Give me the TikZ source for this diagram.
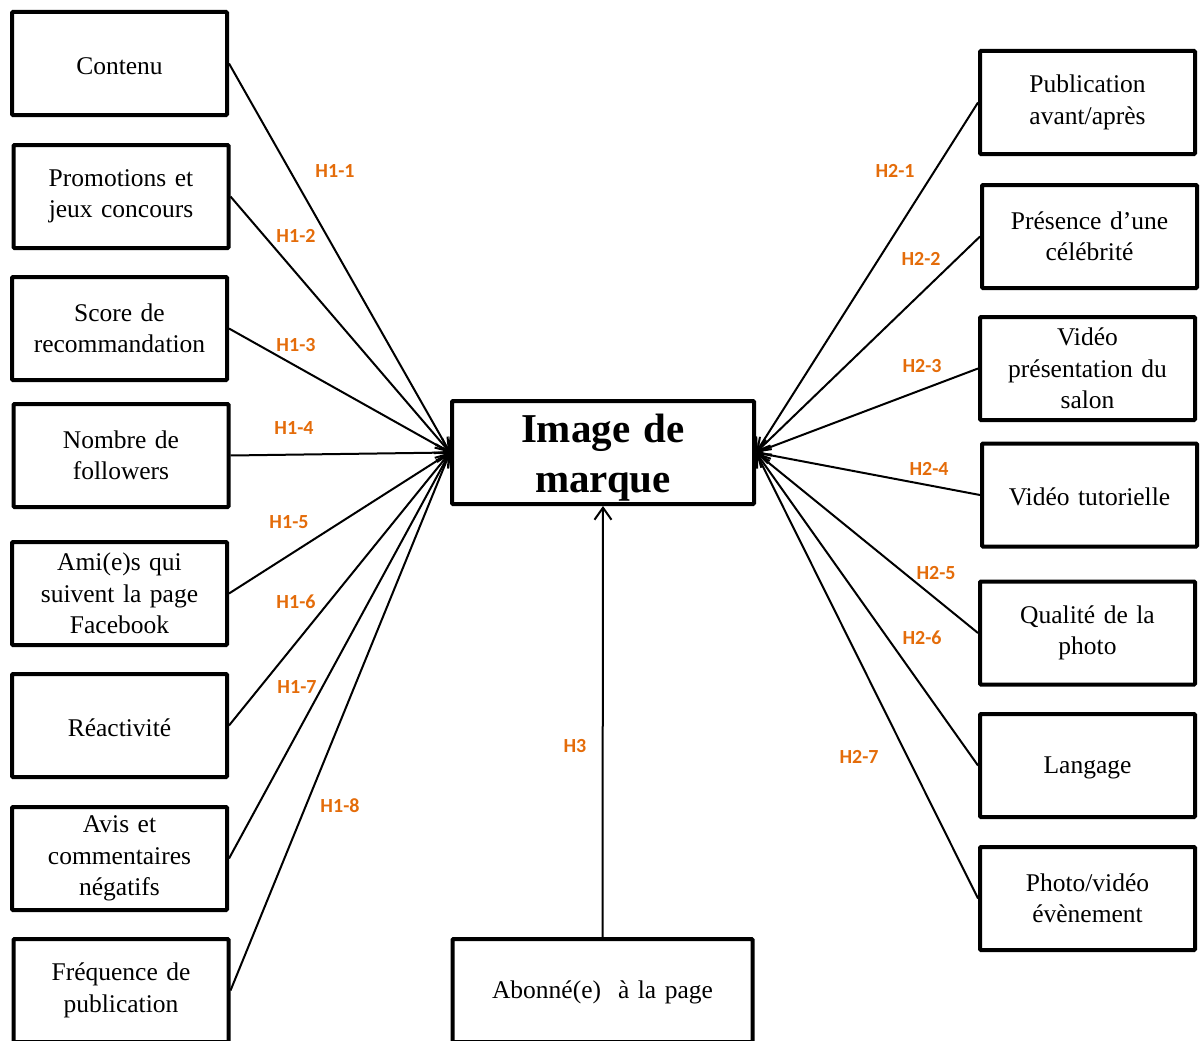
\documentclass[tikz,border=0pt]{standalone}
\usepackage{fontspec}
\setmainfont{Liberation Serif}
\newfontfamily\hypfont{Carlito}
\usepackage{xcolor}
\usetikzlibrary{arrows.meta}
\definecolor{hyporange}{HTML}{E46C0A}

\begin{document}
\begin{tikzpicture}[
    x=1pt, y=-1pt,
    >={Straight Barb[length=12pt,width=17pt]},
    factor/.style={draw, line width=4pt, rounded corners=1pt, fill=white,
                   minimum width=215pt, minimum height=103pt, inner sep=0pt,
                   text width=205pt, align=center,
                   font=\fontsize{25.5}{31.5}\selectfont},
    central/.style={factor, minimum width=302pt, text width=290pt,
                    font=\fontsize{41}{50}\selectfont\bfseries},
    link/.style={->, line width=2pt},
    hyp/.style={text=hyporange, inner sep=0pt,
                font=\hypfont\fontsize{20}{23}\selectfont\bfseries}
  ]
  \clip (0,0) rectangle (1203,1041);

  % Central concept
  \node[central] (image) at (603,452.5) {\rule{0pt}{39pt}Image de\\marque};
  \node[factor, minimum width=300pt, text width=290pt] (abonne) at (602.5,990.5)
    {\rule{0pt}{22pt}Abonn\'e(e)\ \ \`a la page};

  % Left factors (H1)
  \node[factor] (contenu)    at (119.5,63.5)  {\rule{0pt}{22pt}Contenu};
  \node[factor] (promo)      at (121,196.5)   {Promotions et\\jeux concours};
  \node[factor] (score)      at (119.5,328.5) {Score de\\recommandation};
  \node[factor] (followers)  at (121,455.5)   {Nombre de\\followers};
  \node[factor] (amis)       at (119.5,593.5) {Ami(e)s qui\\suivent la page\\Facebook};
  \node[factor] (reactivite) at (119.5,725.5) {\rule{0pt}{22pt}R\'eactivit\'e};
  \node[factor] (avis)       at (119.5,858.5) {Avis et\\commentaires\\n\'egatifs};
  \node[factor] (frequence)  at (121,990.5)   {Fr\'equence de\\publication};

  % Right factors (H2)
  \node[factor] (avantapres) at (1087.5,102.5) {Publication\\avant/apr\`es};
  \node[factor] (celebrite)  at (1089.5,236.5) {Pr\'esence d'une\\c\'el\'ebrit\'e};
  \node[factor] (salon)      at (1087.5,368.5) {Vid\'eo\\pr\'esentation du\\salon};
  \node[factor] (tutoriel)   at (1089.5,495)   {\rule{0pt}{22pt}Vid\'eo tutorielle};
  \node[factor] (qualite)    at (1087.5,633)   {Qualit\'e de la\\photo};
  \node[factor] (langage)    at (1087.5,765.5) {\rule{0pt}{22pt}Langage};
  \node[factor] (evenement)  at (1087.5,898.5) {Photo/vid\'eo\\\'ev\`enement};

  % Connectors
  \foreach \src in {contenu, promo, score, followers, amis, reactivite, avis, frequence}
    \draw[link] (\src.east) -- (image.west);
  \foreach \src in {avantapres, celebrite, salon, tutoriel, qualite, langage, evenement}
    \draw[link] (\src.west) -- (image.east);
  \draw[link] (abonne.north) -- (image.south);

  % Hypothesis labels
  \foreach \lbl/\x/\y in {H1-1/335/171, H1-2/296/236, H1-3/296/345, H1-4/294/428,
                          H1-5/289/522, H1-6/296/602, H1-7/297/687, H1-8/340/806,
                          H2-1/895/171, H2-2/921/259, H2-3/922/366, H2-4/929/469,
                          H2-5/936/573, H2-6/922/638, H2-7/859/757, H3/575/746}
    \node[hyp] (lbl-\lbl) at (\x,\y) {\lbl};

\end{tikzpicture}
\end{document}
